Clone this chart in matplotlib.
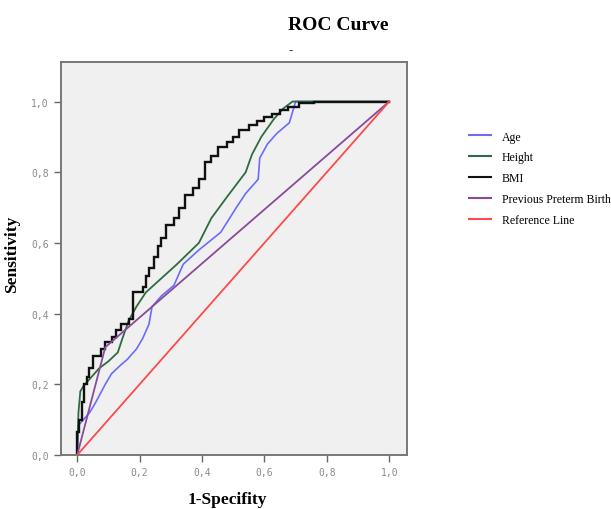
import numpy as np
import matplotlib.pyplot as plt
from matplotlib.lines import Line2D
from matplotlib.ticker import FuncFormatter

# ROC curves (1-specificity, sensitivity)
age_x = [0.0, 0.003, 0.02, 0.04, 0.06, 0.09, 0.11, 0.14, 0.16, 0.19, 0.21, 0.23, 0.24,
         0.27, 0.31, 0.34, 0.39, 0.46, 0.51, 0.54, 0.58, 0.585, 0.61, 0.64, 0.68, 0.70, 1.0]
age_y = [0.0, 0.083, 0.10, 0.12, 0.15, 0.20, 0.23, 0.255, 0.27, 0.30, 0.33, 0.37, 0.42,
         0.45, 0.48, 0.54, 0.58, 0.63, 0.70, 0.74, 0.78, 0.84, 0.88, 0.91, 0.94, 1.0, 1.0]

height_x = [0.0, 0.002, 0.004, 0.01, 0.02, 0.04, 0.07, 0.10, 0.13, 0.145, 0.165, 0.19,
            0.22, 0.27, 0.32, 0.39, 0.43, 0.48, 0.54, 0.56, 0.59, 0.63, 0.66, 0.69, 0.76, 1.0]
height_y = [0.0, 0.06, 0.12, 0.18, 0.195, 0.215, 0.245, 0.265, 0.29, 0.33, 0.38, 0.42,
            0.46, 0.50, 0.54, 0.60, 0.67, 0.73, 0.80, 0.85, 0.90, 0.95, 0.98, 1.0, 1.0, 1.0]

bmi_x = [0.0, 0.0, 0.006, 0.006, 0.015, 0.015, 0.022, 0.022, 0.03, 0.03, 0.038, 0.038,
         0.05, 0.05, 0.075, 0.075, 0.09, 0.09, 0.11, 0.11, 0.125, 0.125, 0.14, 0.14,
         0.165, 0.165, 0.18, 0.18, 0.21, 0.21, 0.22, 0.22, 0.23, 0.23, 0.245, 0.245,
         0.26, 0.26, 0.27, 0.27, 0.285, 0.285, 0.31, 0.31, 0.325, 0.325, 0.345, 0.345,
         0.37, 0.37, 0.39, 0.39, 0.41, 0.41, 0.43, 0.43, 0.45, 0.45, 0.48, 0.48,
         0.50, 0.50, 0.52, 0.52, 0.55, 0.55, 0.575, 0.575, 0.60, 0.60, 0.625, 0.625,
         0.65, 0.65, 0.675, 0.675, 0.71, 0.71, 0.76, 0.76, 1.0]
bmi_y = [0.0, 0.065, 0.065, 0.10, 0.10, 0.15, 0.15, 0.20, 0.20, 0.22, 0.22, 0.245,
         0.245, 0.28, 0.28, 0.30, 0.30, 0.32, 0.32, 0.335, 0.335, 0.355, 0.355, 0.37,
         0.37, 0.385, 0.385, 0.46, 0.46, 0.475, 0.475, 0.505, 0.505, 0.53, 0.53, 0.56,
         0.56, 0.59, 0.59, 0.615, 0.615, 0.65, 0.65, 0.67, 0.67, 0.70, 0.70, 0.735,
         0.735, 0.755, 0.755, 0.78, 0.78, 0.83, 0.83, 0.845, 0.845, 0.87, 0.87, 0.885,
         0.885, 0.90, 0.90, 0.92, 0.92, 0.935, 0.935, 0.945, 0.945, 0.955, 0.955, 0.965,
         0.965, 0.975, 0.975, 0.985, 0.985, 0.995, 0.995, 1.0, 1.0]

preterm_x = [0.0, 0.09, 1.0]
preterm_y = [0.0, 0.305, 1.0]

ref_x = [0.0, 1.0]
ref_y = [0.0, 1.0]

labels = ['Age', 'Height', 'BMI', 'Previous Preterm Birth', 'Reference Line']
colors = ['#6b6bff', '#2e6b40', '#111111', '#8a4a9a', '#ff4a4a']
widths = [1.2, 1.3, 1.7, 1.3, 1.3]

serif = 'Liberation Serif'

fig = plt.figure(figsize=(6.11, 5.10), dpi=100)
ax = fig.add_axes([0.0993, 0.1059, 0.5663, 0.770])
ax.set_facecolor('#f0f0f0')

series = [(age_x, age_y), (height_x, height_y), (bmi_x, bmi_y),
          (preterm_x, preterm_y), (ref_x, ref_y)]
for (xs, ys), c, w in zip(series, colors, widths):
    ax.plot(xs, ys, color=c, lw=w, solid_joinstyle='miter')

ax.set_xlim(-0.053, 1.056)
ax.set_ylim(0.0, 1.111)
ticks = [0.0, 0.2, 0.4, 0.6, 0.8, 1.0]
ax.set_xticks(ticks)
ax.set_yticks(ticks)
fmt = FuncFormatter(lambda v, p: f'{v:.1f}'.replace('.', ','))
ax.xaxis.set_major_formatter(fmt)
ax.yaxis.set_major_formatter(fmt)
ax.tick_params(direction='out', length=5, width=1, color='#666666',
               labelcolor='#8a8a8a', labelsize=7)
for lab in ax.get_xticklabels() + ax.get_yticklabels():
    lab.set_family('DejaVu Sans Mono')
for s in ax.spines.values():
    s.set_color('#777777')
    s.set_linewidth(1.4)

ax.set_xlabel('1-Specifity', family=serif, fontweight='bold', fontsize=12.5)
ax.set_ylabel('Sensitivity', family=serif, fontweight='bold', fontsize=12.5)
ax.xaxis.set_label_coords(0.483, -0.092)
ax.yaxis.set_label_coords(-0.118, 0.514)

fig.text(338 / 611, 1 - 25 / 510, 'ROC Curve', family=serif, fontweight='bold',
         fontsize=14, ha='center', va='center')
fig.text(291 / 611, 1 - 50 / 510, '-', family=serif, fontweight='bold',
         fontsize=9, ha='center', va='center')

handles = [Line2D([], [], color=c, lw=1.5) for c in colors]
fig.legend(handles, labels, loc='upper left', bbox_to_anchor=(458 / 611, 1 - 121 / 510),
           frameon=False, prop={'family': serif, 'size': 8.5}, handlelength=1.9,
           labelspacing=0.75, handletextpad=0.9)

fig.savefig('out.png', dpi=100)
